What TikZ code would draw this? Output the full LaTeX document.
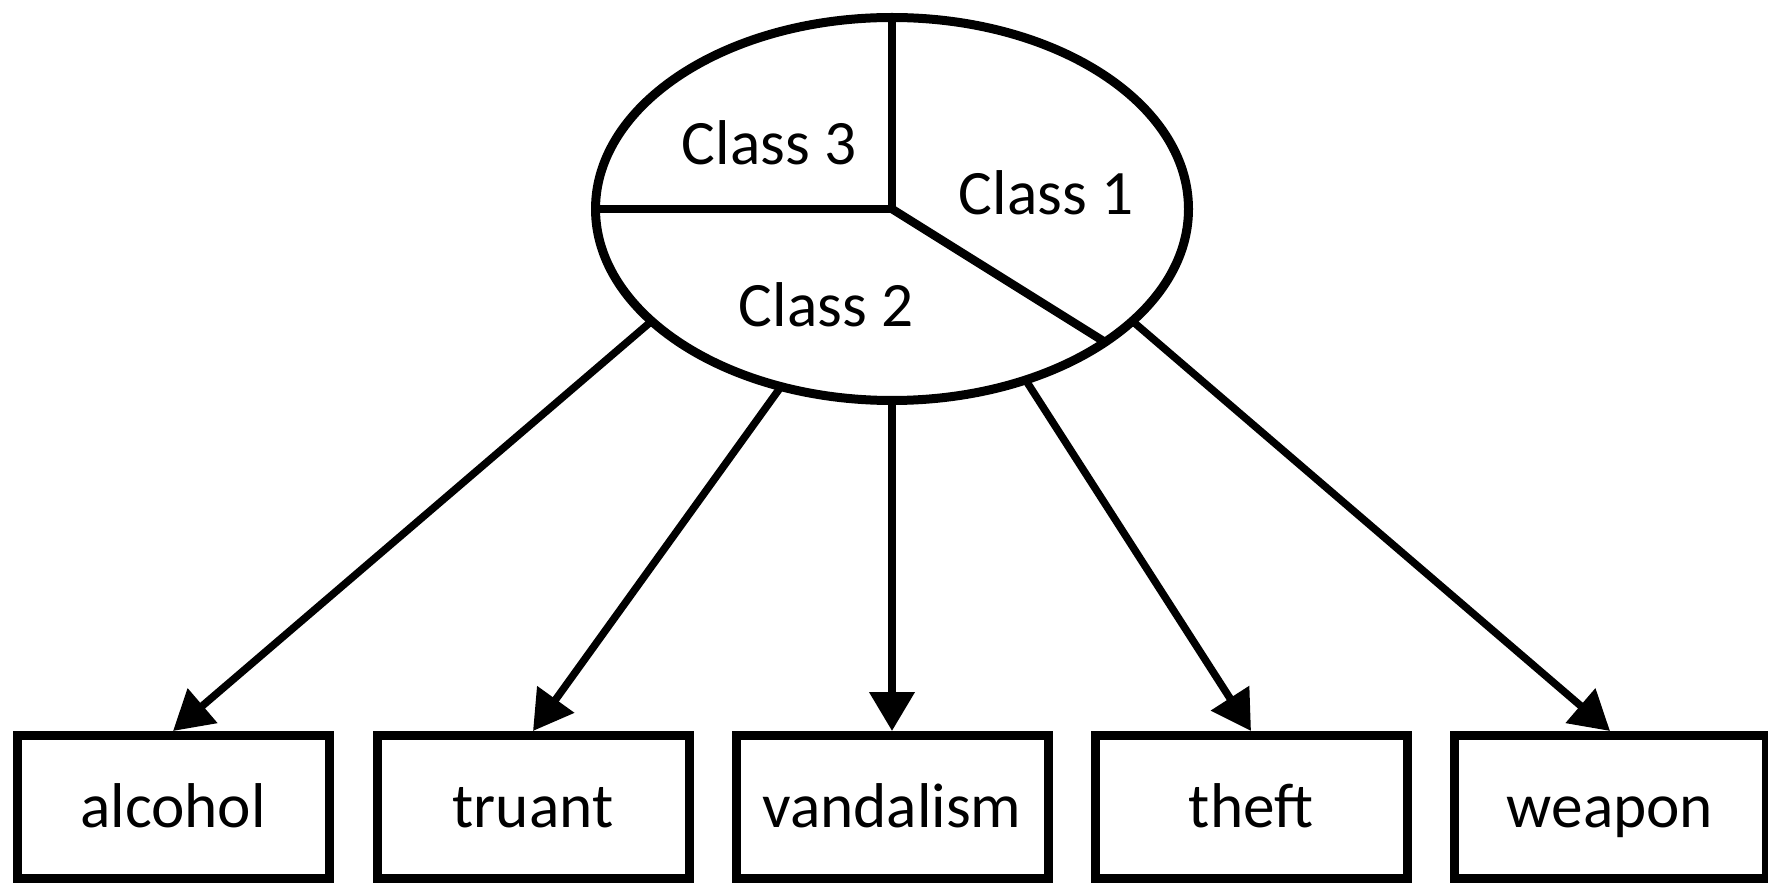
\documentclass[tikz,border=0pt]{standalone}
\usepackage{fontspec}
\setmainfont{Carlito}
\usetikzlibrary{arrows.meta,positioning,shapes.geometric}

\begin{document}
\begin{tikzpicture}[x=0.1mm, y=-0.1mm,
        latent/.style = {draw, ellipse, line width=0.9mm, minimum width=59.3mm, minimum height=38.3mm, inner sep=0pt, outer sep=0pt},
        item/.style = {draw, rectangle, line width=0.9mm, minimum width=31.2mm, minimum height=14.3mm, text height=4mm, text depth=0pt, font=\fontsize{18}{20}\selectfont},
        classlabel/.style = {font=\fontsize{18}{20}\selectfont},
        divider/.style = {line width=0.85mm},
        arrow/.style = {line width=0.75mm, -{Triangle[length=3.9mm, width=4.4mm]}}
        ]
        \useasboundingbox (0,0) rectangle (1768,886);

        \node[latent] (lc) at (892,209) {};
        \draw[divider] (lc.center) -- (lc.north);
        \draw[divider] (lc.center) -- (lc.west);
        \draw[divider] (lc.center) -- (lc.-32.9);

        \node[classlabel] (c3) at (769,143) {Class 3};
        \node[classlabel] (c1) at (1046,193) {Class 1};
        \node[classlabel] (c2) at (826,305) {Class 2};

        \node[item] (alcohol) at (173,807) {alcohol};
        \node[item] (truant) at (533,807) {truant};
        \node[item] (vandalism) at (892,807) {vandalism};
        \node[item] (theft) at (1251,807) {theft};
        \node[item] (weapon) at (1610,807) {weapon};

        \draw[arrow] (lc.205) -- (alcohol.north);
        \draw[arrow] (lc.238) -- (truant.north);
        \draw[arrow] (lc.270) -- (vandalism.north);
        \draw[arrow] (lc.308) -- (theft.north);
        \draw[arrow] (lc.335) -- (weapon.north);

    \end{tikzpicture}
\end{document}
